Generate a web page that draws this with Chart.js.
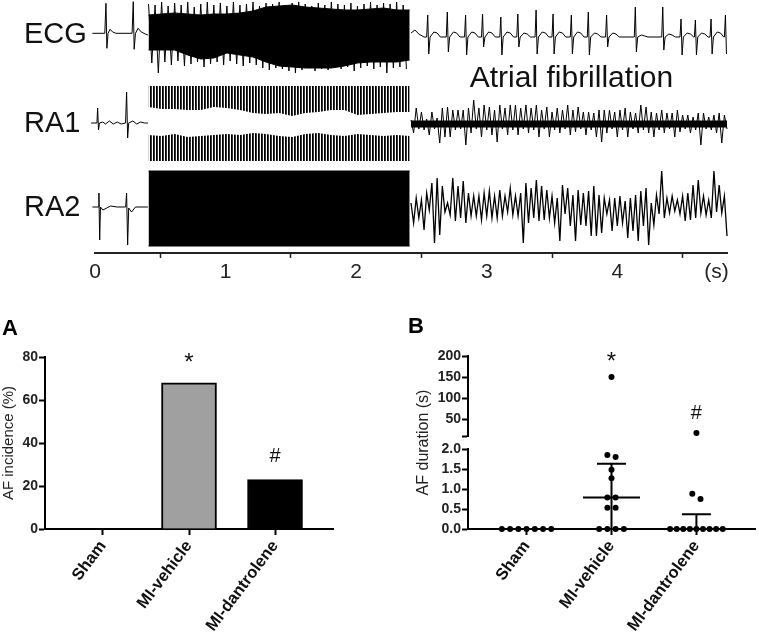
<!DOCTYPE html>
<html>
<head>
<meta charset="utf-8">
<script src="https://cdn.jsdelivr.net/npm/chart.js@4.4.0/dist/chart.umd.min.js"></script>
<style>
  html, body { margin: 0; padding: 0; background: #fff; }
  #wrap { position: relative; width: 759px; height: 633px; }
  canvas { position: absolute; }
  #traces { left: 0; top: 0; }
  #incidence { left: 0; top: 300px; }
  #duration { left: 380px; top: 300px; }
</style>
</head>
<body>
<div id="wrap">
  <canvas id="traces" width="759" height="300"></canvas>
  <canvas id="incidence" width="380" height="333"></canvas>
  <canvas id="duration" width="379" height="333"></canvas>
</div>
<script>
// ---- recordings: time in s, amplitude in trace units ----
const traceNames = ['ECG', 'RA1', 'RA2'];
const traceLevels = [-35, -124, -208];
const timeTicks = [0, 0.5, 1, 1.5, 2, 2.5, 3, 3.5, 4, 4.5, 4.76];
const timeTickLabels = ['0', '', '1', '', '2', '', '3', '', '4', '', '(s)'];

// burst pacing window
const burstStart = 0.41;
const burstStep = 0.1;

const ecgPre = [[-0.02, 1.7], [0.075, 1.7], [0.084, 31.7], [0.091, -13.3], [0.1, 1.7], [0.115, 5.7], [0.135, 3], [0.16, 1.7],
  [0.284, 1.7], [0.293, 33.3], [0.3, -14.3], [0.31, 1.7], [0.33, 6.7], [0.355, 3], [0.385, 1], [0.405, 0]];
const ecgBurstTop = [20, 21, 22, 21, 20, 21, 21, 22, 24, 28, 29, 30, 28, 27, 26, 25, 25, 26, 27, 25, 25];
const ecgBurstBottom = [-15, -15, -15, -20, -24, -23, -18, -20, -22, -27, -31, -32, -33, -33, -33, -31, -28, -27, -27, -27, -25];
const ecgSpikeStep = 0.05;
const ecgSpikeHigh = [31, 30, 33, 29, 32, 30, 33, 28, 31, 33, 30, 32, 29, 33, 30, 31, 33, 29, 32, 31,
  33, 30, 32, 33, 31, 29, 32, 30, 33, 31, 30, 32, 29, 31, 33, 30, 32, 31, 33, 30];
const ecgSpikeLow = [-28, -38, -27, -30, -26, -31, -29, -27, -32, -29, -27, -30, -26, -29, -31, -28, -30, -33, -35, -33,
  -34, -36, -38, -35, -33, -36, -34, -35, -33, -34, -32, -36, -33, -31, -34, -32, -38, -33, -32, -34];
const ecgPostStart = [[2.42, 2], [2.45, 5], [2.48, 1], [2.52, -2]];
const ecgBase = -2;
// [time, R peak, S trough, T wave]
const ecgBeats = [
  [2.55, 20, -19, 5], [2.70, 23, -17, 5], [2.84, 20, -20, 5], [2.97, 21, -12, 5],
  [3.11, 18, -20, 5], [3.24, 21, -12, 4], [3.38, 25, -19, 5], [3.51, 21, -19, 5],
  [3.65, 20, -19, 5], [3.78, 23, -20, 4], [3.92, 20, -12, 4], [4.14, 28, -17, 2],
  [4.35, 28, -15, 3], [4.49, 16, -20, 4], [4.60, 15, -20, 4], [4.72, 16, -19, 5],
  [4.83, 20, -19, 0]
];

const ra1Pre = [[-0.03, 1], [0.015, 1], [0.02, 16], [0.027, -6], [0.034, 1], [0.06, 2], [0.08, 0], [0.11, 3], [0.14, 0],
  [0.17, 2], [0.2, 0], [0.234, 1], [0.242, 32], [0.25, -14], [0.258, 1], [0.29, 3], [0.32, 0], [0.35, 2], [0.38, 1], [0.405, 1]];
const ra1BandTop = 38;
const ra1BandBottom = -37;
const ra1UpperInner = [17, 15, 15, 14, 14, 17, 16, 14, 11, 10, 11, 8, 11, 12, 14, 14, 9, 10, 11, 12, 12];
const ra1LowerInner = [-11, -12, -10, -13, -12, -11, -10, -11, -9, -10, -12, -13, -10, -9, -11, -12, -10, -11, -12, -11, -12];
const ra1CoreHalf = 3.5; // thickness of the noisy baseline during AF

const ra2Pre = [[-0.02, 1], [0.025, 1], [0.03, 15], [0.036, -32], [0.042, 1], [0.06, -2], [0.09, 0], [0.12, 2], [0.17, 1],
  [0.235, 1], [0.242, 15], [0.25, -37], [0.258, 0], [0.28, -4], [0.31, 1], [0.405, 1]];
const ra2BlockTop = 37;
const ra2BlockBottom = -38;

// atrial fibrillation after the burst, sampled every 20 ms
const postStart = 2.42;
const postStep = 0.02;
const ra1Post = [
  4, -9, 16, -5, 12, -6, 5, -11, 12, -5,
  6, -19, 16, -13, 17, -13, 14, -6, 14, -5,
  14, -21, 16, -9, 24, -5, 16, -13, 19, -6,
  17, -11, 14, -18, 19, -5, 16, -11, 19, -6,
  19, -11, 16, -5, 19, -9, 16, -6, 19, -13,
  14, -5, 17, -13, 12, -6, 16, -9, 14, -5,
  19, -11, 14, -8, 17, -5, 12, -11, 12, -6,
  11, -13, 14, -18, 14, -9, 14, -5, 12, -13,
  14, -6, 16, -13, 12, -5, 11, -9, 19, -6,
  17, -9, 12, -13, 11, -6, 14, -9, 11, -5,
  11, -13, 14, -8, 9, -5, 9, -9, 7, -6,
  11, -21, 11, -5, 7, -6, 9, -9, 11, -19,
  9, -5
];
const ra2Post = [
  5, -15, 10, -10, 8, -22, 15, -2, 25, -35,
  30, -27, 22, -4, 5, -7, 30, -13, 22, -10,
  27, -15, 15, -8, 12, -8, 12, -12, 15, -8,
  17, -10, 12, -10, 18, -8, 12, -4, 20, -7,
  12, -8, 15, -35, 25, -15, 20, -10, 28, -13,
  22, -12, 18, -10, 12, -15, 10, -33, 23, -6,
  20, -18, 13, -33, 18, -17, 15, -18, 17, -28,
  22, -28, 13, -25, 10, -6, 8, -23, 10, -18,
  12, -15, 7, -30, 10, -23, 13, -33, 17, -18,
  20, -37, 5, -17, 13, -6, 37, -10, 10, -5,
  12, -3, 8, -6, 12, -13, 15, -12, 23, -10,
  28, -5, 12, -7, 8, -10, 37, -4, 23, -5,
  12, -28
];

// ---- group data ----
const groups = ['Sham', 'MI-vehicle', 'MI-dantrolene'];
const incidence = [0, 68, 23];
const barColours = ['#ffffff', '#a0a0a0', '#000000'];
const groupMarks = ['', '*', '#'];
const durations = [
  [0, 0, 0, 0, 0, 0, 0],
  [150, 1.85, 1.8, 1.48, 1.27, 0.79, 0.79, 0.53, 0.53, 0, 0, 0, 0],
  [17, 0.88, 0.75, 0, 0, 0, 0, 0, 0, 0, 0, 0]
];
const durCentre = [0, 0.79, 0];
const durUpper = [0, 1.63, 0.37];
const durBreak = 2;

Chart.defaults.font.family = "'Liberation Sans', Arial, sans-serif";
Chart.defaults.color = '#222';
Chart.defaults.animation = false;

const font = "'Liberation Sans', Arial, sans-serif";

function glyphText(ctx, text, x, cy) {
  const m = ctx.measureText(text);
  ctx.fillText(text, x, cy + (m.actualBoundingBoxAscent - m.actualBoundingBoxDescent) / 2);
}

// ---------------- traces ----------------
const pairsAt = (pairs, lv) => pairs.map(([t, v]) => ({x: t, y: v + lv}));
const runAt = (t0, dt, vals, lv) => vals.map((v, i) => ({x: t0 + i * dt, y: v + lv}));
const burstEnd = burstStart + burstStep * (ecgBurstTop.length - 1);
const postEnd = postStart + postStep * (ra1Post.length - 1);
const flatAt = (v, lv, t0, t1) => [{x: t0, y: v + lv}, {x: t1, y: v + lv}];

const [ecgLv, ra1Lv, ra2Lv] = traceLevels;

const ecgSpikes = [];
ecgSpikeHigh.forEach((v, i) => {
  const t = burstStart + i * ecgSpikeStep;
  ecgSpikes.push({x: t, y: v + ecgLv}, {x: t + ecgSpikeStep / 2, y: ecgSpikeLow[i] + ecgLv});
});

const ecgPost = pairsAt(ecgPostStart, ecgLv);
ecgBeats.forEach(([t, r, s, tw]) => {
  ecgPost.push(
    {x: t - 0.01, y: ecgBase + ecgLv},
    {x: t - 0.002, y: r + ecgLv},
    {x: t + 0.006, y: s + ecgLv},
    {x: t + 0.016, y: ecgBase + ecgLv},
    {x: t + 0.045, y: ecgBase + tw + ecgLv},
    {x: t + 0.07, y: ecgBase + tw - 1 + ecgLv},
    {x: t + 0.095, y: ecgBase + ecgLv}
  );
});
const ecgPostClipped = ecgPost.filter(p => p.x <= 4.845);

const traceCanvas = document.getElementById('traces');
const stripeTile = document.createElement('canvas');
stripeTile.width = 3;
stripeTile.height = 1;
const st = stripeTile.getContext('2d');
st.fillStyle = '#fff';
st.fillRect(0, 0, 3, 1);
st.fillStyle = '#000';
st.fillRect(0, 0, 1, 1);
st.fillStyle = '#333';
st.fillRect(1, 0, 1, 1);
const stripes = traceCanvas.getContext('2d').createPattern(stripeTile, 'repeat');

const line = (data, extra) => Object.assign({
  data: data, borderColor: '#000', borderWidth: 1, pointRadius: 0, fill: false, clip: false, tension: 0
}, extra || {});

const traceLabel = {
  id: 'traceLabel',
  afterDraw(chart) {
    const {ctx, scales: {x, y}} = chart;
    ctx.save();
    ctx.fillStyle = '#111';
    ctx.font = '30px ' + font;
    ctx.textAlign = 'left';
    ctx.textBaseline = 'alphabetic';
    ctx.fillText('Atrial fibrillation', x.getPixelForValue(2.87), y.getPixelForValue(-87));
    ctx.restore();
  }
};

new Chart(traceCanvas, {
  type: 'line',
  data: {
    datasets: [
      line(pairsAt(ecgPre, ecgLv)),
      line(runAt(burstStart, burstStep, ecgBurstTop, ecgLv), {fill: '+1', backgroundColor: '#000'}),
      line(runAt(burstStart, burstStep, ecgBurstBottom, ecgLv)),
      line(ecgSpikes),
      line(ecgPostClipped),
      line(pairsAt(ra1Pre, ra1Lv)),
      line(flatAt(ra1BandTop, ra1Lv, burstStart, burstEnd), {fill: '+1', backgroundColor: stripes, borderWidth: 0}),
      line(runAt(burstStart, burstStep, ra1UpperInner, ra1Lv), {borderWidth: 0}),
      line(runAt(burstStart, burstStep, ra1LowerInner, ra1Lv), {fill: '+1', backgroundColor: stripes, borderWidth: 0}),
      line(flatAt(ra1BandBottom, ra1Lv, burstStart, burstEnd), {borderWidth: 0}),
      line(flatAt(ra1CoreHalf, ra1Lv, postStart, postEnd), {fill: '+1', backgroundColor: '#000', borderWidth: 0}),
      line(flatAt(-ra1CoreHalf, ra1Lv, postStart, postEnd), {borderWidth: 0}),
      line(runAt(postStart, postStep, ra1Post, ra1Lv)),
      line(pairsAt(ra2Pre, ra2Lv)),
      line(flatAt(ra2BlockTop, ra2Lv, burstStart, burstEnd), {fill: '+1', backgroundColor: '#000'}),
      line(flatAt(ra2BlockBottom, ra2Lv, burstStart, burstEnd)),
      line(runAt(postStart, postStep, ra2Post, ra2Lv), {borderWidth: 1.3})
    ]
  },
  options: {
    responsive: false,
    layout: {padding: {left: 24, right: 32, top: 0, bottom: 0}},
    plugins: {legend: {display: false}, tooltip: {enabled: false}},
    scales: {
      x: {
        type: 'linear',
        min: 0,
        max: 4.84,
        afterBuildTicks: s => { s.ticks = timeTicks.map(v => ({value: v})); },
        afterFit: s => { s.height = 47; },
        border: {color: '#222', width: 2},
        grid: {
          drawOnChartArea: false,
          tickLength: 5,
          tickWidth: 1.5,
          tickColor: c => timeTickLabels[c.index] === '' ? '#222' : 'rgba(0,0,0,0)'
        },
        ticks: {
          autoSkip: false,
          maxRotation: 0,
          padding: 2,
          font: {size: 21},
          color: '#222',
          callback: (v, i) => timeTickLabels[i]
        }
      },
      y: {
        min: -253,
        max: 0,
        afterBuildTicks: s => { s.ticks = traceLevels.map(v => ({value: v})); },
        afterFit: s => { s.width = 71; s.paddingTop = 0; s.paddingBottom = 0; },
        border: {display: false},
        grid: {display: false, drawTicks: false},
        ticks: {
          crossAlign: 'far',
          font: {size: 29},
          color: '#111',
          callback: (v, i) => traceNames[i]
        }
      }
    }
  },
  plugins: [traceLabel]
});

// ---------------- A: AF incidence ----------------
const panelLetter = letter => ({
  id: 'letter' + letter,
  afterDraw(chart) {
    const ctx = chart.ctx;
    ctx.save();
    ctx.fillStyle = '#000';
    ctx.font = 'bold 22px ' + font;
    ctx.textBaseline = 'alphabetic';
    ctx.fillText(letter, letter === 'A' ? 2 : 28, letter === 'A' ? 35 : 33);
    ctx.restore();
  }
});

const incidenceMarks = {
  id: 'incidenceMarks',
  afterDatasetsDraw(chart) {
    const {ctx, scales: {x, y}} = chart;
    ctx.save();
    ctx.fillStyle = '#111';
    ctx.textAlign = 'center';
    groupMarks.forEach((m, i) => {
      if (!m) return;
      ctx.font = (m === '*' ? '24px ' : '20px ') + font;
      glyphText(ctx, m, x.getPixelForValue(i), y.getPixelForValue(incidence[i]) - 25);
    });
    ctx.restore();
  }
};

const axisTicks = {drawOnChartArea: false, offset: false, tickLength: 6, tickWidth: 2, tickColor: '#000'};
const axisBorder = {color: '#000', width: 2};
const valueFont = {size: 14, weight: 'bold'};
const groupTicks = {
  autoSkip: false,
  minRotation: 53,
  maxRotation: 53,
  padding: 2,
  font: {size: 16.5, weight: 'bold'},
  color: '#111',
  callback: v => groups[v]
};

new Chart(document.getElementById('incidence'), {
  type: 'bar',
  data: {
    datasets: [{
      data: incidence.map((v, i) => ({x: i, y: v})),
      backgroundColor: barColours,
      borderColor: '#000',
      borderWidth: 2,
      barThickness: 55
    }]
  },
  options: {
    responsive: false,
    layout: {padding: {top: 57, right: 47, left: 0, bottom: 0}},
    plugins: {legend: {display: false}, tooltip: {enabled: false}},
    scales: {
      x: {
        type: 'linear',
        offset: false,
        min: -0.674,
        max: 2.674,
        afterBuildTicks: s => { s.ticks = groups.map((g, i) => ({value: i})); },
        afterFit: s => { s.height = 104; },
        border: axisBorder,
        grid: axisTicks,
        ticks: groupTicks
      },
      y: {
        min: 0,
        max: 80,
        afterFit: s => { s.width = 45; },
        border: axisBorder,
        grid: axisTicks,
        ticks: {stepSize: 20, autoSkip: false, padding: 1, font: valueFont, color: '#222'},
        title: {display: true, text: 'AF incidence (%)', font: {size: 15}, color: '#222', padding: 0}
      }
    }
  },
  plugins: [incidenceMarks, panelLetter('A')]
});

// ---------------- B: AF duration (broken axis) ----------------
function spread(values, centre) {
  const sorted = [...values].sort((a, b) => b - a);
  const out = [];
  let i = 0;
  while (i < sorted.length) {
    let j = i + 1;
    while (j < sorted.length && sorted[j - 1] - sorted[j] < 0.15) j++;
    const n = j - i;
    const gap = n > 1 ? Math.min(0.097, 0.62 / (n - 1)) : 0;
    for (let k = 0; k < n; k++) {
      out.push({x: centre + (k - (n - 1) / 2) * gap, y: sorted[i + k]});
    }
    i = j;
  }
  return out;
}

const durPoints = durations.flatMap((vals, i) => spread(vals, i));
const lowPoints = durPoints.filter(p => p.y <= durBreak);
const highPoints = durPoints.filter(p => p.y > durBreak);

const durationMarks = {
  id: 'durationMarks',
  afterDatasetsDraw(chart) {
    const {ctx, scales: {x, yBot, yTop}} = chart;
    ctx.save();
    ctx.strokeStyle = '#000';
    ctx.lineWidth = 2;
    groups.forEach((g, i) => {
      if (durUpper[i] === 0) return;
      const cx = x.getPixelForValue(i);
      const y0 = yBot.getPixelForValue(0);
      const yc = yBot.getPixelForValue(durCentre[i]);
      const yu = yBot.getPixelForValue(durUpper[i]);
      ctx.beginPath();
      ctx.moveTo(cx, y0);
      ctx.lineTo(cx, yu);
      ctx.moveTo(cx - 14.5, yu);
      ctx.lineTo(cx + 14.5, yu);
      ctx.moveTo(cx - 28.5, yc);
      ctx.lineTo(cx + 28.5, yc);
      ctx.stroke();
    });
    ctx.fillStyle = '#111';
    ctx.textAlign = 'center';
    groupMarks.forEach((m, i) => {
      if (!m) return;
      const top = Math.max(...durations[i]);
      const py = top > durBreak ? yTop.getPixelForValue(top) : yBot.getPixelForValue(top);
      ctx.font = (m === '*' ? '24px ' : '20px ') + font;
      glyphText(ctx, m, x.getPixelForValue(i), py - 21);
    });
    ctx.restore();
  }
};

const dot = {pointRadius: 3, pointBackgroundColor: '#000', pointBorderWidth: 0, showLine: false, clip: false};

new Chart(document.getElementById('duration'), {
  type: 'scatter',
  data: {
    datasets: [
      Object.assign({data: lowPoints, yAxisID: 'yBot'}, dot),
      Object.assign({data: highPoints, yAxisID: 'yTop'}, dot)
    ]
  },
  options: {
    responsive: false,
    layout: {padding: {top: 56, right: 2, left: 0, bottom: 0}},
    plugins: {legend: {display: false}, tooltip: {enabled: false}},
    scales: {
      x: {
        type: 'linear',
        offset: false,
        min: -0.69,
        max: 2.69,
        afterBuildTicks: s => { s.ticks = groups.map((g, i) => ({value: i})); },
        afterFit: s => { s.height = 104; },
        border: axisBorder,
        grid: axisTicks,
        ticks: groupTicks
      },
      yBot: {
        type: 'linear',
        position: 'left',
        stack: 'dur',
        stackWeight: 80,
        min: 0,
        max: 2,
        afterFit: s => { s.width = 88; },
        border: axisBorder,
        grid: axisTicks,
        ticks: {stepSize: 0.5, autoSkip: false, padding: 1, font: valueFont, color: '#222', callback: v => v.toFixed(1)}
      },
      yGap: {
        type: 'linear',
        position: 'left',
        stack: 'dur',
        stackWeight: 13,
        min: 0,
        max: 1,
        afterFit: s => { s.width = 88; },
        border: {display: false},
        grid: {display: false, drawTicks: false},
        ticks: {display: false},
        title: {display: true, text: 'AF duration (s)', font: {size: 16}, color: '#222', padding: {top: 34, bottom: 0}}
      },
      yTop: {
        type: 'linear',
        position: 'left',
        stack: 'dur',
        stackWeight: 80,
        min: 10,
        max: 200,
        afterBuildTicks: s => { s.ticks = [10, 50, 100, 150, 200].map(v => ({value: v})); },
        afterFit: s => { s.width = 88; },
        border: axisBorder,
        grid: axisTicks,
        ticks: {autoSkip: false, padding: 1, font: valueFont, color: '#222', callback: v => (v === 10 ? '' : v)}
      }
    }
  },
  plugins: [durationMarks, panelLetter('B')]
});
</script>
</body>
</html>
